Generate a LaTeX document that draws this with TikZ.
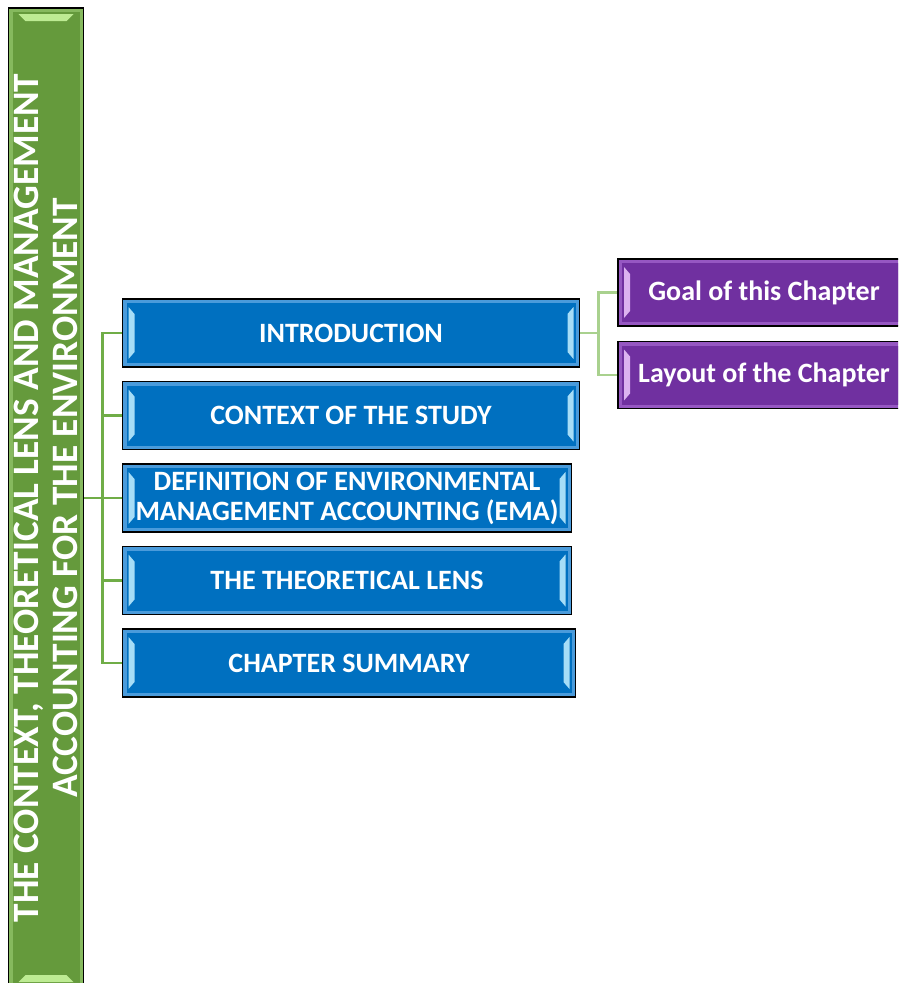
\documentclass[tikz,border=0pt]{standalone}
\usepackage{fontspec}
\setmainfont{Carlito}
\usepackage{xcolor}
\usetikzlibrary{positioning,calc}
\definecolor{boxblue}{HTML}{0070C0}
\definecolor{blueedge}{HTML}{4A9BDB}
\definecolor{bluelite}{HTML}{A6DDF7}
\definecolor{boxpurple}{HTML}{7030A0}
\definecolor{purpedge}{HTML}{9657C2}
\definecolor{purplite}{HTML}{DCB2F0}
\definecolor{bargreen}{HTML}{659A3C}
\definecolor{greenedge}{HTML}{86B95E}
\definecolor{greenlite}{HTML}{BDEB93}
\definecolor{linegreen}{HTML}{70AD47}
\definecolor{twiggreen}{HTML}{A9D18E}
\tikzset{
  sides/.style 2 args={path picture={
    \fill[#1] ([shift={(4pt,4pt)}]path picture bounding box.south west) rectangle ([shift={(-4pt,-4pt)}]path picture bounding box.north east);
    \fill[#2] ([shift={(6pt,8pt)}]path picture bounding box.south west) -- ([shift={(12pt,15pt)}]path picture bounding box.south west) -- ([shift={(12pt,-15pt)}]path picture bounding box.north west) -- ([shift={(6pt,-8pt)}]path picture bounding box.north west) -- cycle;
    \fill[#2] ([shift={(-6pt,8pt)}]path picture bounding box.south east) -- ([shift={(-12pt,15pt)}]path picture bounding box.south east) -- ([shift={(-12pt,-15pt)}]path picture bounding box.north east) -- ([shift={(-6pt,-8pt)}]path picture bounding box.north east) -- cycle;
  }},
  ends/.style 2 args={path picture={
    \fill[#1] ([shift={(4pt,4pt)}]path picture bounding box.south west) rectangle ([shift={(-4pt,-4pt)}]path picture bounding box.north east);
    \fill[#2] ([shift={(10pt,-6pt)}]path picture bounding box.north west) -- ([shift={(-10pt,-6pt)}]path picture bounding box.north east) -- ([shift={(-17pt,-13pt)}]path picture bounding box.north east) -- ([shift={(17pt,-13pt)}]path picture bounding box.north west) -- cycle;
    \fill[#2] ([shift={(10pt,6pt)}]path picture bounding box.south west) -- ([shift={(-10pt,6pt)}]path picture bounding box.south east) -- ([shift={(-17pt,13pt)}]path picture bounding box.south east) -- ([shift={(17pt,13pt)}]path picture bounding box.south west) -- cycle;
  }},
}

\begin{document}
\begin{tikzpicture}[x=1pt,y=1pt,node distance=13pt,
  topic/.style={rectangle,draw=black,line width=1.5pt,fill=blueedge,sides={boxblue}{bluelite},text=white,
    font=\fontsize{28}{30}\selectfont\bfseries,minimum height=68pt,align=center,inner sep=1pt},
  subtopic/.style={rectangle,draw=black,line width=1.5pt,fill=purpedge,sides={boxpurple}{purplite},text=white,
    font=\fontsize{28}{30}\selectfont\bfseries,minimum height=67pt,minimum width=292pt,align=center,inner sep=1pt},
  chapter/.style={rectangle,draw=black,line width=1.5pt,fill=greenedge,ends={bargreen}{greenlite}},
  trunk/.style={draw=linegreen,line width=2.5pt},
  twig/.style={draw=twiggreen,line width=2.5pt}]
  \clip (0,0) rectangle (898,-983);
  \node[chapter,minimum width=75pt,minimum height=980pt] (bar) at (46,-498) {};
  \node[rotate=90,text=white,align=center,font=\fontsize{37.3}{39}\selectfont\bfseries] (bartitle) at (bar.center)
    {THE CONTEXT, THEORETICAL LENS AND MANAGEMENT\\ACCOUNTING FOR THE ENVIRONMENT};
  \node[topic,minimum width=457pt] (intro) at (351,-333) {INTRODUCTION};
  \node[topic,minimum width=457pt,below=of intro] (ctx) {CONTEXT OF THE STUDY};
  \node[topic,minimum width=449pt,below=of ctx.south west,anchor=north west] (def)
    {DEFINITION OF ENVIRONMENTAL\\MANAGEMENT ACCOUNTING (EMA)};
  \node[topic,minimum width=449pt,below=of def] (lens) {THE THEORETICAL LENS};
  \node[topic,minimum width=453pt,below=of lens.south west,anchor=north west] (summ) {CHAPTER SUMMARY};
  \node[subtopic] (goal) at (764,-292.5) {Goal of this Chapter};
  \node[subtopic,below=14pt of goal] (layout) {Layout of the Chapter};
  \coordinate (hub) at ($(bar.east |- def.west)+(18,0)$);
  \draw[trunk] (bar.east |- def.west) -- (hub);
  \foreach \n in {intro,ctx,def,lens,summ} \draw[trunk] (hub) |- (\n.west);
  \coordinate (hub2) at ($(intro.east)+(18,0)$);
  \draw[twig] (intro.east) -- (hub2);
  \foreach \n in {goal,layout} \draw[twig] (hub2) |- (\n.west);
\end{tikzpicture}
\end{document}
